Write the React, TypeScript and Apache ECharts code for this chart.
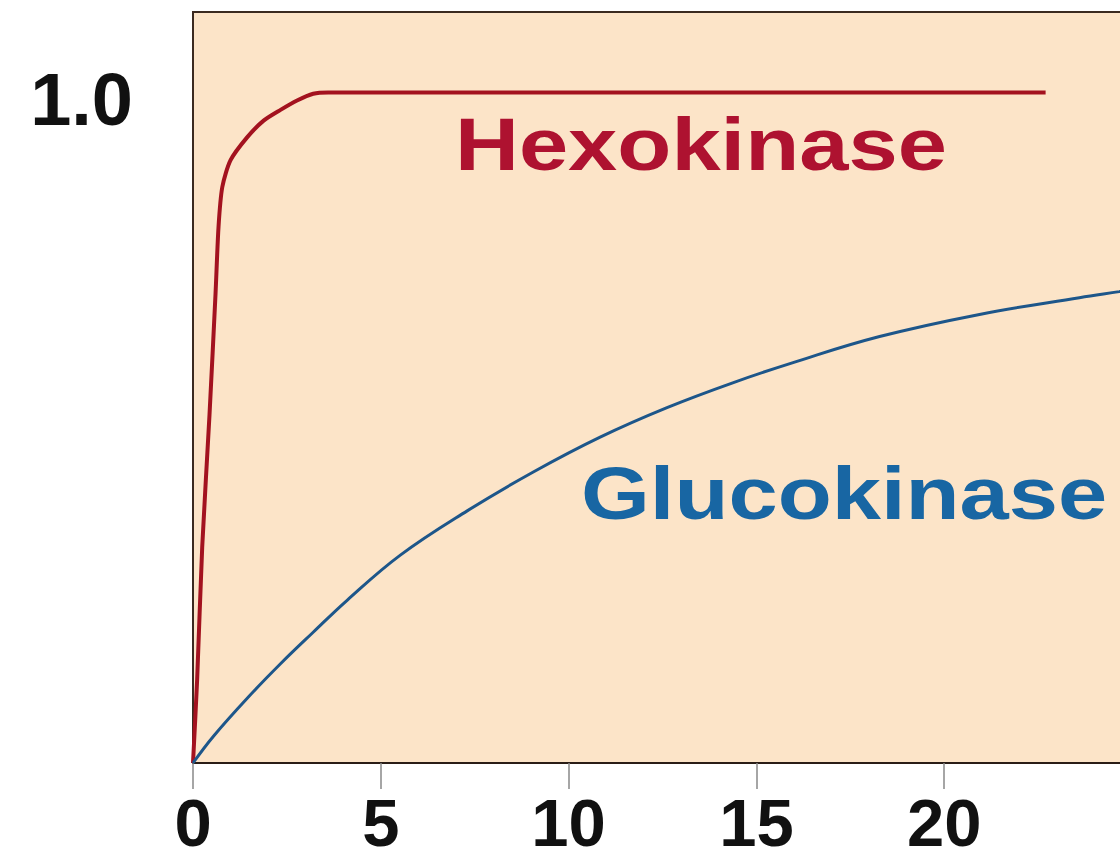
import React, { useEffect, useRef } from "react";
import * as echarts from "echarts";

const xTicks = [0, 5, 10, 15, 20, 25];
const yLabelValue = 1.0;

const hexokinase: [number, number][] = [
  [0, 0], [0.11, 0.124], [0.245, 0.322], [0.44, 0.52], [0.6, 0.7], [0.68, 0.8],
  [0.78, 0.859], [1.0, 0.899], [1.44, 0.933], [1.88, 0.958], [2.33, 0.974],
  [2.77, 0.988], [3.2, 0.998], [3.6, 1.0], [22.7, 1.0],
];

const glucokinase: [number, number][] = [
  [0, 0], [0.545, 0.04], [1.45, 0.097], [2.33, 0.148], [3.2, 0.195], [4.11, 0.243],
  [5.52, 0.31], [7.3, 0.376], [9.06, 0.434], [10.84, 0.486], [12.62, 0.53],
  [14.37, 0.567], [16.08, 0.599], [18.28, 0.636], [20.94, 0.669], [23.6, 0.694],
  [24.66, 0.703], [25, 0.706],
];

const FONT = '"Liberation Sans", Arial, Helvetica, sans-serif';

export default function App() {
  const ref = useRef<HTMLDivElement>(null);
  useEffect(() => {
    if (!ref.current) return;
    const chart = echarts.init(ref.current, undefined, { renderer: "svg" });
    chart.setOption({
      animation: false,
      grid: {
        left: 193,
        top: 12,
        bottom: 93,
        right: 68,
        outerBoundsMode: "none",
        containLabel: false,
        show: true,
        backgroundColor: "#FCE4C8",
        borderColor: "#3b2a20",
        borderWidth: 2,
      },
      xAxis: {
        type: "value",
        min: xTicks[0],
        max: xTicks[xTicks.length - 1],
        interval: 5,
        splitLine: { show: false },
        axisLine: { show: true, lineStyle: { color: "#2a1d16", width: 2 } },
        axisTick: { show: true, length: 26, lineStyle: { color: "#888", width: 1.5 } },
        axisLabel: {
          showMaxLabel: false,
          margin: 31,
          fontSize: 67,
          lineHeight: 56,
          fontWeight: "bold",
          fontFamily: FONT,
          color: "#111",
        },
      },
      yAxis: {
        type: "value",
        min: 0,
        max: 1.12,
        interval: 1,
        splitLine: { show: false },
        axisLine: { show: false },
        axisTick: { show: false },
        axisLabel: {
          margin: 60,
          fontSize: 74,
          fontWeight: "bold",
          fontFamily: FONT,
          color: "#111",
          verticalAlign: "top",
          lineHeight: 14,
          formatter: (v: number) => (v === yLabelValue ? yLabelValue.toFixed(1) : ""),
        },
      },
      graphic: [
        {
          type: "text",
          x: 455,
          y: 144,
          scaleX: 1.18,
          style: {
            text: "Hexokinase",
            font: `bold 75px ${FONT}`,
            fill: "#AE1230",
            align: "left",
            verticalAlign: "middle",
          },
        },
        {
          type: "text",
          x: 581,
          y: 493,
          scaleX: 1.18,
          style: {
            text: "Glucokinase",
            font: `bold 75px ${FONT}`,
            fill: "#1866A3",
            align: "left",
            verticalAlign: "middle",
          },
        },
      ],
      series: [
        {
          name: "Hexokinase",
          type: "line",
          data: hexokinase,
          showSymbol: false,
          smooth: 0.25,
          lineStyle: { color: "#A3121F", width: 4 },
        },
        {
          name: "Glucokinase",
          type: "line",
          data: glucokinase,
          showSymbol: false,
          smooth: 0.4,
          lineStyle: { color: "#1D568A", width: 3 },
        },
      ],
    });
    return () => chart.dispose();
  }, []);
  return (
    <div style={{ position: "fixed", left: 0, top: 0, width: 1120, height: 856, overflow: "hidden", background: "#fff" }}>
      <div ref={ref} style={{ width: 1200, height: 856 }} />
    </div>
  );
}
